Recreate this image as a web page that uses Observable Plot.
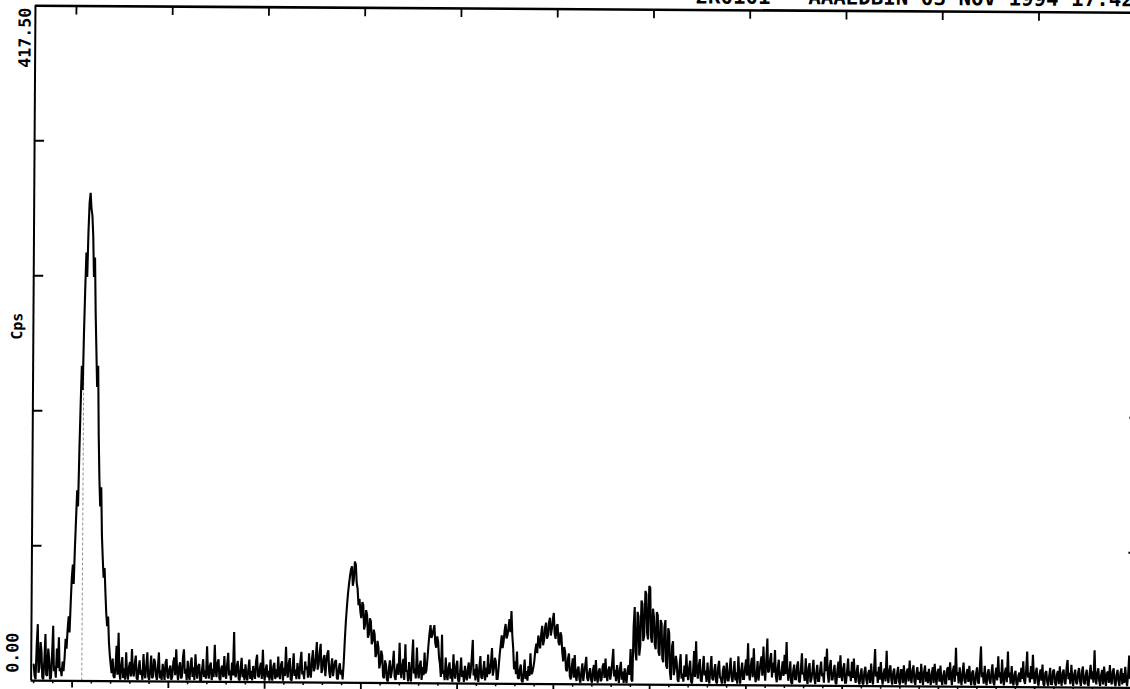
<!DOCTYPE html>
<html>
<head>
<meta charset="utf-8">
<script src="https://cdn.jsdelivr.net/npm/d3@7"></script>
<script src="https://cdn.jsdelivr.net/npm/@observablehq/plot@0.6"></script>
<style>
html, body { margin: 0; padding: 0; background: #fff; overflow: hidden; }
#chart svg { display: block; overflow: visible; transform: rotate(0.37deg); transform-origin: 0 0; }
</style>
</head>
<body>
<div id="chart"></div>
<script>
// Scan: 2-theta start and step (degrees)
const startAngle = 3.0;
const stepAngle = 0.05;

// Counts per second, segment by segment
const counts3to7 = [10,3, 1,22, 35,5, 8,24, 18,2, 1,12, 29,4, 3,20, 14,1, 2,16, 34,6, 9,2, 20,8, 27,6, 8,3, 12,6, 14,26, 20,32, 40,30, 48,64, 72,60, 82,100, 118,108, 142,170, 195,180, 215,242, 265,250, 278,296, 302,292, 288,275, 250,262, 228,205, 182,195, 152,125, 108,120, 90,76, 64,70, 55,42, 34,40, 24,16, 10,5, 14,3];
const counts7to13 = [2,9, 22,4, 30,6, 1,10, 15,2, 8,1, 18,5, 1,9, 12,3, 20,6, 3,11, 16,2, 1,8, 13,4, 7,1, 17,5, 2,10, 18,3, 1,7, 16,2, 3,14, 12,4, 1,9, 18,2, 7,1, 11,6, 1,12, 14,3, 2,8, 10,1, 3,12, 15,4, 20,7, 1,9, 12,2, 3,15, 20,5, 8,1, 13,4, 1,11, 15,3, 9,1, 17,6, 2,10, 11,1, 1,8, 14,3, 7,2, 22,6, 2,10, 12,1, 8,3, 23,7, 3,12, 14,2, 1,9, 10,3, 16,5, 2,11, 18,4, 7,1, 12,4];
const counts13to19 = [31,5, 3,10, 13,2, 1,9, 15,3, 8,1, 11,4, 1,8, 14,2, 7,1, 10,5, 2,13, 17,4, 3,9, 12,2, 20,6, 1,8, 11,3, 7,1, 14,4, 1,10, 12,2, 8,3, 16,5, 2,11, 13,1, 9,4, 22,7, 3,12, 15,2, 1,9, 18,4, 8,2, 12,6, 2,13, 19,5, 7,2, 13,8, 10,3, 18,6, 3,14, 20,7, 9,16, 25,8, 11,19, 24,6, 8,15, 17,4, 12,18, 20,7, 3,10, 15,4, 9,13, 14,3, 2,9, 12,5, 8,2];
const counts19to23 = [12,26, 38,47, 55,61, 66,70, 72,60, 64,75, 73,62, 58,48, 52,44, 40,50, 48,33, 36,45, 42,28, 30,40, 38,24, 26,33, 30,16, 18,26, 22,9, 12,20, 17,4, 3,14, 11,2, 1,9, 14,3, 7,12, 20,4, 2,8, 12,5, 25,9, 3,11, 15,2, 24,7, 8,1, 13,4, 1,15, 27,6, 9,3, 22,8, 3,11, 14,2, 10,5, 19,6];
const counts23to31 = [8,15, 24,31, 36,28, 30,33, 36,25, 22,29, 26,16, 12,4, 30,6, 8,2, 16,5, 2,10, 13,3, 9,1, 18,6, 3,11, 14,2, 1,7, 16,4, 8,1, 11,5, 2,9, 13,3, 7,16, 27,5, 9,2, 12,6, 1,10, 17,4, 3,8, 14,2, 10,4, 18,6, 7,13, 22,5, 9,16, 14,3, 3,10,
  18,24, 30,22, 26,33, 37,28, 30,35, 40,32, 45,30, 22,9, 14,6, 20,4, 3,9, 12,2, 1,7, 15,3, 8,2, 11,5, 19,6, 7,10,
  14,21, 25,19, 30,26, 22,31, 36,24, 27,35, 38,28, 30,38, 41,30, 34,40, 44,31, 28,36, 37,26, 24,32, 30,20, 14,23, 20,9, 8,16, 19,5, 3,11, 16,4];
const counts31to37 = [18,6, 2,9, 11,3, 1,8, 13,2, 7,12, 17,4, 2,7, 10,3, 1,9, 12,2, 15,5, 1,8, 10,2, 3,11, 13,4, 16,6, 2,9, 11,3, 7,14, 22,5, 9,2, 12,6, 1,10, 14,3, 8,1, 10,4, 1,9, 12,6,
  22,3, 2,36, 48,20, 15,45, 42,18, 24,52, 50,27, 30,58, 56,32, 28,61, 60,30, 26,47, 42,25, 22,45, 43,20, 18,40, 38,16, 14,36, 40,12, 10,35, 32,8, 3,24, 27,6, 10,18, 14,3, 2,12, 19,4, 7,2, 12,5];
const counts37to45 = [19,7, 3,11, 15,2, 1,8, 21,5, 27,9, 4,12, 16,3, 2,10, 18,6, 9,2, 14,5, 1,10, 18,4, 3,9, 13,2, 1,11, 15,5, 4,1, 9,12,
  1,6, 14,3, 3,10, 17,5, 2,8, 15,3, 8,1, 18,7, 1,9, 14,4, 4,11, 16,6, 26,8, 3,12, 17,5, 23,9, 2,6, 15,3, 8,14, 18,6,
  24,10, 3,15, 29,8, 9,16, 20,5, 14,8, 22,6, 2,11, 16,4, 4,9, 15,6, 19,7, 27,10, 3,8, 15,2, 1,9, 13,4, 4,12, 15,3, 2,10,
  20,7, 8,3, 17,5, 1,11, 14,2, 4,9, 16,5, 1,8, 13,3, 3,10, 15,6, 8,2, 18,9, 23,7, 2,12, 16,4, 4,9, 13,2, 1,10, 15,5,
  19,7, 3,11, 14,2, 2,9, 17,6, 9,3, 15,5];
const counts45to52 = [17,6, 2,9, 13,3, 1,7, 11,2, 1,9, 12,4, 1,8, 10,2, 14,5, 1,10, 23,6, 9,2, 12,4, 15,6, 1,8, 11,3, 22,7, 2,10, 13,4,
  1,9, 11,2, 2,8, 12,3, 1,10, 10,2, 13,5, 1,9, 11,3, 16,6, 2,10, 13,3, 1,8, 12,4, 9,2, 14,6, 1,9, 13,3, 9,2, 11,5,
  1,8, 12,2, 14,6, 1,9, 11,3, 13,4, 1,7, 10,2, 2,11, 12,4, 15,6, 1,10, 13,3, 24,7, 9,2, 12,5, 1,9, 15,4, 2,8, 11,3,
  13,5, 1,9, 10,2, 1,8, 12,3, 2,13, 25,6, 9,2, 13,5, 1,8];
const counts52to60 = [11,4, 2,9, 14,3, 1,8, 12,4, 19,6, 9,2, 17,5, 1,9, 12,3, 22,6, 9,2, 13,4, 1,8, 10,2, 1,7, 9,3, 12,5, 16,4, 2,10,
  22,6, 9,3, 13,5, 20,7, 2,9, 12,3, 1,8, 11,4, 14,2, 1,9, 10,3, 1,7, 12,2, 2,10, 11,3, 1,8, 10,2, 13,5, 1,9, 11,3,
  2,12, 17,5, 9,2, 14,6, 1,8, 11,3, 2,9, 12,4, 1,10, 13,3, 2,8, 11,2, 1,9, 14,5, 10,3, 23,7, 2,9, 12,4, 1,8, 11,2,
  13,6, 1,9, 10,3, 14,5, 2,10, 12,3, 1,8, 11,4, 1,9, 12,2, 9,3, 13,5, 1,8, 20,6];

// Axes
const xDomain = [2.87, 60.32];
const yDomain = [0, 417.5];
const majorTicks = [5, 10, 15, 20, 25, 30, 35, 40, 45, 50, 55, 60];
const minorTicks = [3, 4, 6, 7, 8, 9, 11, 12, 13, 14, 16, 17, 18, 19, 21, 22, 23, 24, 26, 27, 28, 29, 31, 32, 33, 34, 36, 37, 38, 39, 41, 42, 43, 44, 46, 47, 48, 49, 51, 52, 53, 54, 56, 57, 58, 59];
const yTicks = [83.5, 167, 250.5, 334];
const yLabelBottom = "0.00";
const yLabelTop = "417.50";
const yTitle = "Cps";
const header = "2K0101 - AAAEDBIN 03 NOV 1994 17:42";
const markerAngle = 5.5;
const markerTop = 192;

const counts = [].concat(counts3to7, counts7to13, counts13to19, counts19to23, counts23to31, counts31to37, counts37to45, counts45to52, counts52to60);
const scan = counts.map((c, i) => ({angle: startAngle + i * stepAngle, cps: c}));

const font = "DejaVu Sans Mono";
const noText = () => "";

const chart = Plot.plot({
  width: 1130,
  height: 689,
  marginLeft: 35,
  marginRight: -11,
  marginTop: 5,
  marginBottom: 9,
  x: {domain: xDomain, axis: null, label: null},
  y: {domain: yDomain, axis: null, label: null},
  style: {background: "white", color: "black", fontFamily: font, overflow: "visible"},
  marks: [
    Plot.ruleX([markerAngle], {y1: 0, y2: markerTop, stroke: "#777", strokeWidth: 0.8, strokeDasharray: "3,2"}),
    Plot.line(scan, {x: "angle", y: "cps", stroke: "black", strokeWidth: 2.1, strokeLinejoin: "miter", strokeMiterlimit: 2}),
    Plot.ruleY([yDomain[0]], {stroke: "black", strokeWidth: 2.2}),
    Plot.ruleY([yDomain[1]], {stroke: "black", strokeWidth: 2.6}),
    Plot.ruleX([xDomain[0], xDomain[1]], {stroke: "black", strokeWidth: 2}),
    Plot.axisX({anchor: "bottom", ticks: majorTicks, tickSize: 7, tickFormat: noText, label: null, strokeWidth: 1.8}),
    Plot.axisX({anchor: "bottom", ticks: minorTicks, tickSize: 3, tickFormat: noText, label: null, strokeWidth: 1.5}),
    Plot.axisX({anchor: "top", ticks: majorTicks, tickSize: -8, tickFormat: noText, label: null, strokeWidth: 1.8}),
    Plot.axisY({anchor: "left", ticks: yTicks, tickSize: -10, tickFormat: noText, label: null, strokeWidth: 2}),
    Plot.axisY({anchor: "right", ticks: yTicks, tickSize: -10, tickFormat: noText, label: null, strokeWidth: 2}),
    Plot.text([yLabelBottom], {frameAnchor: "bottom-left", dx: -13, dy: -8, rotate: -90, textAnchor: "start", fontSize: 16.6, fontWeight: "bold", fontFamily: font}),
    Plot.text([yLabelTop], {frameAnchor: "top-left", dx: -16.5, dy: 62, rotate: -90, textAnchor: "start", fontSize: 16.6, fontWeight: "bold", fontFamily: font}),
    Plot.text([yTitle], {frameAnchor: "left", dx: -16, dy: -17, rotate: -90, textAnchor: "middle", fontSize: 15, fontWeight: "bold", fontFamily: font}),
    Plot.text([header], {frameAnchor: "top-left", dx: 660, dy: -6.5, textAnchor: "start", lineAnchor: "bottom", fontSize: 20.8, fontWeight: "bold", fontFamily: font})
  ]
});

document.getElementById("chart").appendChild(chart);
</script>
</body>
</html>
